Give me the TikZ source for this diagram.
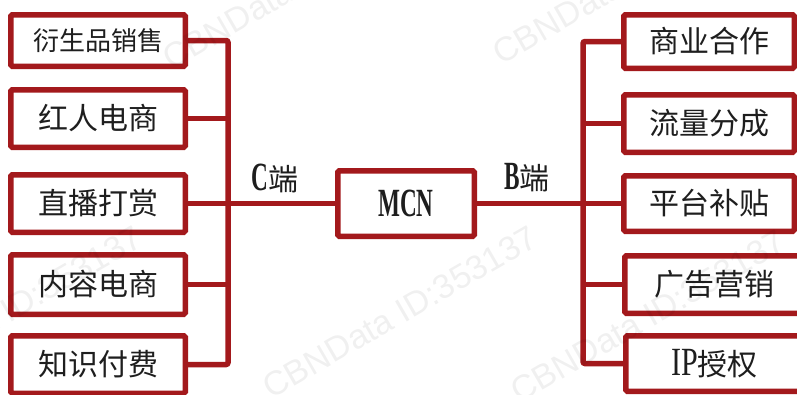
\documentclass[tikz,border=0pt]{standalone}
\usepackage{fontspec}
\setmainfont{Liberation Serif}
\newfontfamily\cjk{Noto Sans CJK SC}
\newfontfamily\wmfont{Liberation Sans}
\definecolor{bred}{RGB}{163,25,28}
\definecolor{txt}{RGB}{30,30,30}
\newcommand{\latb}[1]{\scalebox{0.58}[1]{\rmfamily\fontsize{40}{40}\selectfont\bfseries #1}}
\newcommand{\latr}[1]{\scalebox{0.75}[1]{\rmfamily\fontsize{40}{40}\selectfont #1}}
\begin{document}
\begin{tikzpicture}[x=1pt,y=-1pt,
  box/.style={draw=bred, line width=5.5pt, fill=white, rounded corners=1.5pt,
    inner sep=0pt, text=txt, font=\cjk\fontsize{30}{30}\selectfont},
  link/.style={draw=bred, line width=5.5pt, rounded corners=2pt},
  lbl/.style={text=txt, inner sep=0pt, font=\cjk\fontsize{30}{30}\selectfont},
  wm/.style={text=black, opacity=0.06, font=\wmfont\fontsize{34}{34}\selectfont, rotate=30}]
\path[use as bounding box] (0,0) rectangle (797,394);
\clip (0,0) rectangle (797,394);
\fill[white] (0,0) rectangle (797,394);

\coordinate (lt) at (228,0);
\coordinate (rt) at (583,0);

% left boxes
\node[box, minimum width=174.5pt, minimum height=51.5pt, font=\cjk\fontsize{26}{26}\selectfont] (L1) at (98,40.5) {衍生品销售};
\node[box, minimum width=174.5pt, minimum height=57.5pt] (L2) at (98,118.5) {红人电商};
\node[box, minimum width=174.5pt, minimum height=57.5pt] (L3) at (98,203.5) {直播打赏};
\node[box, minimum width=174.5pt, minimum height=59.5pt] (L4) at (98,284.5) {内容电商};
\node[box, minimum width=174.5pt, minimum height=57.5pt] (L5) at (98,364.5) {知识付费};

% right boxes
\node[box, minimum width=170.5pt, minimum height=53.5pt] (R1) at (709,41.5) {商业合作};
\node[box, minimum width=170.5pt, minimum height=57.5pt] (R2) at (709,123.5) {流量分成};
\node[box, minimum width=170.5pt, minimum height=55.5pt] (R3) at (709,203.5) {平台补贴};
\node[box, minimum width=178.5pt, minimum height=57.5pt] (R4) at (714,284.5) {广告营销};
\node[box, minimum width=177.5pt, minimum height=55.5pt] (R5) at (714.5,363.5) {\latr{IP}授权};

% centre
\node[box, minimum width=136.5pt, minimum height=65.5pt] (M) at (406,203.5) {\latb{MCN}};

% connectors left
\draw[link] (L1.east) -- (L1.east -| lt) -- (L5.east -| lt) -- (L5.east);
\foreach \n in {L2,L3,L4} { \draw[link] (\n.east) -- (\n.east -| lt); }
\draw[link] (M.west -| lt) -- (M.west);
% connectors right
\draw[link] (R1.west) -- (R1.west -| rt) -- (R5.west -| rt) -- (R5.west);
\foreach \n in {R2,R3,R4} { \draw[link] (\n.west) -- (\n.west -| rt); }
\draw[link] (M.east) -- (M.east -| rt);

% labels
\node[lbl] (cl) at (275,178) {\latb{C}端};
\node[lbl] (bl) at (527,178) {\latb{B}端};

% watermark
\node[wm] (w1) at (400,312) {CBNData ID:353137};
\node[wm] (w2) at (630,-22) {CBNData ID:353137};
\node[wm] (w3) at (5,312) {CBNData ID:353137};
\node[wm] (w4) at (648,316) {CBNData ID:353137};
\node[wm] (w5) at (300,-17) {CBNData ID:353137};
\end{tikzpicture}
\end{document}
